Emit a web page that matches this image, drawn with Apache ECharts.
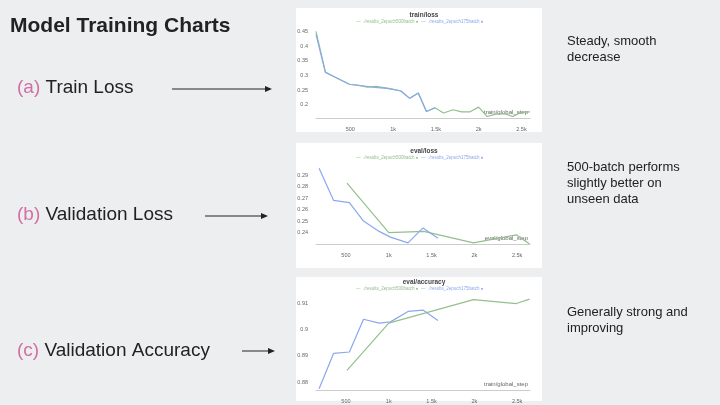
<!DOCTYPE html>
<html><head><meta charset="utf-8">
<script src="https://cdn.jsdelivr.net/npm/echarts@6/dist/echarts.min.js"></script>
<style>body{margin:0;background:#eceef0}#c{width:720px;height:405px}</style>
</head><body><div id="c"></div>
<script>
// series labels
const runA = './results_2epoch500batch';
const runB = './results_2epoch175batch';

// train/loss
const trainStepsB = [100, 210, 490, 760, 950, 1090, 1195, 1295, 1390, 1490];
const trainLossB = [0.44, 0.31, 0.27, 0.26, 0.255, 0.247, 0.222, 0.24, 0.177, 0.19];
const trainStepsA = [100, 210, 320, 490, 600, 700, 800, 950, 1090, 1195, 1295, 1390, 1490, 1590, 1700, 1800, 1900, 2000, 2100, 2200, 2300, 2400, 2500, 2600];
const trainLossA = [0.45, 0.312, 0.295, 0.27, 0.266, 0.26, 0.263, 0.256, 0.248, 0.222, 0.24, 0.177, 0.19, 0.172, 0.183, 0.176, 0.176, 0.192, 0.16, 0.168, 0.17, 0.16, 0.175, 0.176];

// eval/loss
const evalStepsB = [186, 356, 540, 705, 888, 1020, 1225, 1400, 1575];
const evalLossB = [0.296, 0.268, 0.266, 0.25, 0.241, 0.236, 0.231, 0.244, 0.235];
const evalStepsA = [512, 1000, 1410, 1990, 2490, 2645];
const evalLossA = [0.283, 0.240, 0.241, 0.231, 0.238, 0.230];

// eval/accuracy
const accB = [0.8775, 0.891, 0.8915, 0.904, 0.9025, 0.903, 0.907, 0.9075, 0.9035];
const accA = [0.8845, 0.9025, 0.9115, 0.910, 0.9117];
const accStepsA = [512, 1000, 1990, 2490, 2645];

const stepTicks = {500: '500', 1000: '1k', 1500: '1.5k', 2000: '2k', 2500: '2.5k'};

const green = '#93c08c', blue = '#8aa8ee';
const zip = (xs, ys) => xs.map((x, i) => [x, ys[i]]);

const panels = [
  {top: 30, h: 88, title: 'train/loss', min: 0.155, max: 0.455, step: 0.005, ticks: [0.2, 0.25, 0.3, 0.35, 0.4, 0.45], xmin: 100, xmax: 2600, xl: 'train/global_step'},
  {top: 166, h: 78, title: 'eval/loss', min: 0.23, max: 0.298, step: 0.002, ticks: [0.24, 0.25, 0.26, 0.27, 0.28, 0.29], xmin: 150, xmax: 2650, xl: 'eval/global_step'},
  {top: 297, h: 93, title: 'eval/accuracy', min: 0.877, max: 0.9125, step: 0.001, ticks: [0.88, 0.89, 0.9, 0.91], xmin: 150, xmax: 2650, xl: 'train/global_step'}
];
const seriesData = [
  [zip(trainStepsA, trainLossA), zip(trainStepsB, trainLossB)],
  [zip(evalStepsA, evalLossA), zip(evalStepsB, evalLossB)],
  [zip(accStepsA, accA), zip(evalStepsB, accB)]
];

const chart = echarts.init(document.getElementById('c'));
const graphic = [
  {type: 'rect', shape: {x: 296, y: 8, width: 246, height: 124}, style: {fill: '#fff'}},
  {type: 'rect', shape: {x: 296, y: 143, width: 246, height: 125}, style: {fill: '#fff'}},
  {type: 'rect', shape: {x: 296, y: 277, width: 246, height: 124}, style: {fill: '#fff'}},
  {type: 'text', left: 10, top: 16, style: {text: 'Model Training Charts', font: 'bold 21px "Liberation Sans", Arial', fill: '#222'}}
];
const labels = [['(a)', ' Train Loss', 78, 172, 272, 89], ['(b)', ' Validation Loss', 205, 205, 268, 216], ['(c)', ' Validation Accuracy', 341, 242, 275, 351]];
labels.forEach(([p, t, y, x1, x2, ay]) => {
  graphic.push({type: 'text', left: 17, top: y, style: {text: '{p|' + p + '}{t|' + t + '}', rich: {p: {fill: '#d36fa6', font: '19px "Liberation Sans"'}, t: {fill: '#222', font: '19px "Liberation Sans"'}}}});
  graphic.push({type: 'line', shape: {x1: x1, y1: ay, x2: x2 - 6, y2: ay}, style: {stroke: '#222', lineWidth: 1}});
  graphic.push({type: 'polygon', shape: {points: [[x2, ay], [x2 - 7, ay - 3], [x2 - 7, ay + 3]]}, style: {fill: '#222'}});
});
[['Steady, smooth\ndecrease', 33], ['500-batch performs\nslightly better on\nunseen data', 159], ['Generally strong and\nimproving', 304]].forEach(([t, y]) => {
  graphic.push({type: 'text', left: 567, top: y, style: {text: t, font: '13px "Liberation Sans"', fill: '#222', lineHeight: 16}});
});
panels.forEach(p => {
  const ly = p.top - 11;
  graphic.push({type: 'text', left: 356, top: ly, style: {text: '—  ' + runA + ' ●', font: '4.5px sans-serif', fill: green}});
  graphic.push({type: 'text', left: 421, top: ly, style: {text: '—  ' + runB + ' ●', font: '4.5px sans-serif', fill: blue}});
  graphic.push({type: 'text', right: 720 - 528, top: p.top + p.h - 9, style: {text: p.xl, font: '6px sans-serif', fill: '#666'}});
});

chart.setOption({
  animation: false,
  title: panels.map(p => ({text: p.title, left: 419, top: p.top - 23, textAlign: 'center', textStyle: {fontSize: 6.5, fontWeight: 'bold', color: '#444'}})),
  grid: panels.map(p => ({left: 316, width: 214, top: p.top, height: p.h})),
  xAxis: panels.map((p, i) => ({
    type: 'value', gridIndex: i, min: p.xmin, max: p.xmax, interval: 50,
    axisLine: {lineStyle: {color: '#ccc'}}, axisTick: {show: false}, splitLine: {show: false},
    axisLabel: {fontSize: 5.5, color: '#666', hideOverlap: false, formatter: v => stepTicks[Math.round(v)] || ''}
  })),
  yAxis: panels.map((p, i) => ({
    type: 'value', gridIndex: i, min: p.min, max: p.max, interval: p.step,
    axisLine: {show: false}, axisTick: {show: false}, splitLine: {show: false},
    axisLabel: {fontSize: 5.5, color: '#666', hideOverlap: false, formatter: v => {
      const t = p.ticks.find(k => Math.abs(k - v) < p.step / 4);
      return t === undefined ? '' : String(t);
    }}
  })),
  series: seriesData.flatMap((pair, i) => pair.map((d, j) => ({
    type: 'line', xAxisIndex: i, yAxisIndex: i, data: d, symbol: 'none',
    lineStyle: {width: 1.2, color: j ? blue : green}, z: j ? 3 : 2
  }))),
  graphic: graphic
});
</script></body></html>
